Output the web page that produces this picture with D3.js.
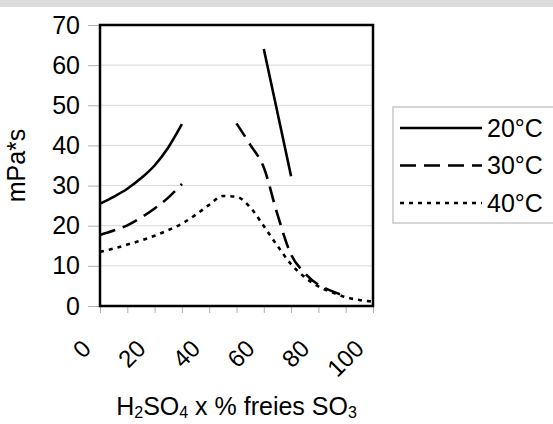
<!DOCTYPE html>
<html>
<head>
<meta charset="utf-8">
<script src="https://cdn.jsdelivr.net/npm/d3@7"></script>
<style>
  body { margin: 0; background: white; }
  text { font-family: "Liberation Sans", Arial, sans-serif; fill: black; }
</style>
</head>
<body>
<div id="chart"></div>
<script>
// values, one per x step (null = no data there)
let xValues = [0, 5, 10, 15, 20, 25, 30, 35, 40, 45, 50, 55, 60, 65, 70, 75, 80, 85, 90, 95, 100];
let visc20 = [25.5, 27.2, 29.2, 31.8, 35.0, 39.5, 45.3, null, null, null, null, null, 64.0, 48.2, 32.3, null, null, null, null, null, null];
let visc30 = [17.7, 18.8, 20.1, 22.0, 24.3, 27.0, 30.4, null, null, null, 45.5, 40.2, 34.5, 22.8, 12.8, 8.2, 5.3, 3.7, 2.4, null, null];
let visc40 = [13.5, 14.3, 15.3, 16.3, 17.5, 18.9, 20.5, 22.7, 25.2, 27.4, 27.2, 24.6, 19.9, 15.0, 10.4, 7.2, 4.9, 3.4, 2.2, 1.5, 1.1];
let seriesNames = ["20°C", "30°C", "40°C"];
let xTicks = [0, 10, 20, 30, 40, 50, 60, 70, 80, 90, 100];
let yTicks = [0, 10, 20, 30, 40, 50, 60, 70];

let W = 553, H = 424;
let margin = {top: 25, left: 100, right: 180, bottom: 118};

let svg = d3.select("#chart")
  .append("svg")
    .attr("width", W)
    .attr("height", H);

// grey strip along the top edge
svg.append("rect")
  .attr("x", 0).attr("y", 0)
  .attr("width", W).attr("height", 7)
  .attr("fill", "#dcdcdc");

let x = d3.scaleLinear()
  .domain([0, 100])
  .range([margin.left, W - margin.right]);

let y = d3.scaleLinear()
  .domain([0, 70])
  .range([H - margin.bottom, margin.top]);

// gridlines
svg.append("g")
  .selectAll("line")
  .data(yTicks.filter(d => d > 0 && d < 70))
  .enter()
  .append("line")
    .attr("x1", x(0)).attr("x2", x(100))
    .attr("y1", d => y(d)).attr("y2", d => y(d))
    .attr("stroke", "#d9d9d9")
    .attr("stroke-width", 1);

let yAxis = svg.append("g")
  .attr("transform", "translate(" + x(0) + ",0)")
  .call(d3.axisLeft(y).tickValues(yTicks).tickSize(12).tickPadding(8));
yAxis.select(".domain").remove();
yAxis.selectAll("line").attr("stroke", "#b0b0b0");
yAxis.selectAll("text")
  .style("font-size", "25px")
  .style("font-family", "Liberation Sans, Arial, sans-serif");

let xAxis = svg.append("g")
  .attr("transform", "translate(0," + y(0) + ")")
  .call(d3.axisBottom(x)
    .tickValues(xTicks)
    .tickSize(7)
    .tickFormat(d => d % 20 == 0 ? d : ""));
xAxis.select(".domain").remove();
xAxis.selectAll("line").attr("stroke", "#b0b0b0");
xAxis.selectAll("text")
  .attr("x", 0).attr("y", 0).attr("dy", 0)
  .attr("transform", "translate(-8,44) rotate(-45)")
  .style("text-anchor", "end")
  .style("font-size", "24px")
  .style("font-family", "Liberation Sans, Arial, sans-serif");

let series = [
  {name: seriesNames[0], values: visc20, dash: null},
  {name: seriesNames[1], values: visc30, dash: "16,8"},
  {name: seriesNames[2], values: visc40, dash: "4,5"}
];

let line = d3.line()
  .defined(d => d[1] != null)
  .x(d => x(d[0]))
  .y(d => y(d[1]))
  .curve(d3.curveMonotoneX);

svg.append("g")
  .selectAll("path")
  .data(series)
  .enter()
  .append("path")
    .attr("d", s => line(xValues.map((v, i) => [v, s.values[i]])))
    .attr("fill", "none")
    .attr("stroke", "black")
    .attr("stroke-width", 2.6)
    .attr("stroke-dasharray", s => s.dash);

// plot frame
svg.append("rect")
  .attr("x", x(0)).attr("y", y(70))
  .attr("width", x(100) - x(0))
  .attr("height", y(0) - y(70))
  .attr("fill", "none")
  .attr("stroke", "black")
  .attr("stroke-width", 2.5);

svg.append("text")
  .attr("transform", "translate(25," + (y(35)) + ") rotate(-90)")
  .attr("text-anchor", "middle")
  .style("font-size", "25px")
  .text("mPa*s");

let title = svg.append("text")
  .attr("x", (x(0) + x(100)) / 2)
  .attr("y", 415)
  .attr("text-anchor", "middle")
  .style("font-size", "25px");
title.append("tspan").text("H");
title.append("tspan").attr("dy", 3).style("font-size", "16px").text("2");
title.append("tspan").attr("dy", -3).text("SO");
title.append("tspan").attr("dy", 3).style("font-size", "16px").text("4");
title.append("tspan").attr("dy", -3).text(" x % freies SO");
title.append("tspan").attr("dy", 3).style("font-size", "16px").text("3");

// legend
let legend = svg.append("g");
legend.append("rect")
  .attr("x", 393).attr("y", 107)
  .attr("width", 170).attr("height", 116)
  .attr("fill", "white")
  .attr("stroke", "#c8c8c8")
  .attr("stroke-width", 1.5);

let items = legend.selectAll(".item")
  .data(series)
  .enter()
  .append("g")
    .attr("class", "item")
    .attr("transform", (d, i) => "translate(0," + (128 + i * 37.5) + ")");
items.append("line")
  .attr("x1", 400).attr("x2", 482)
  .attr("y1", 0).attr("y2", 0)
  .attr("stroke", "black")
  .attr("stroke-width", 2.6)
  .attr("stroke-dasharray", d => d.dash);
items.append("text")
  .attr("x", 487)
  .attr("dy", "0.35em")
  .style("font-size", "25px")
  .text(d => d.name);
</script>
</body>
</html>
